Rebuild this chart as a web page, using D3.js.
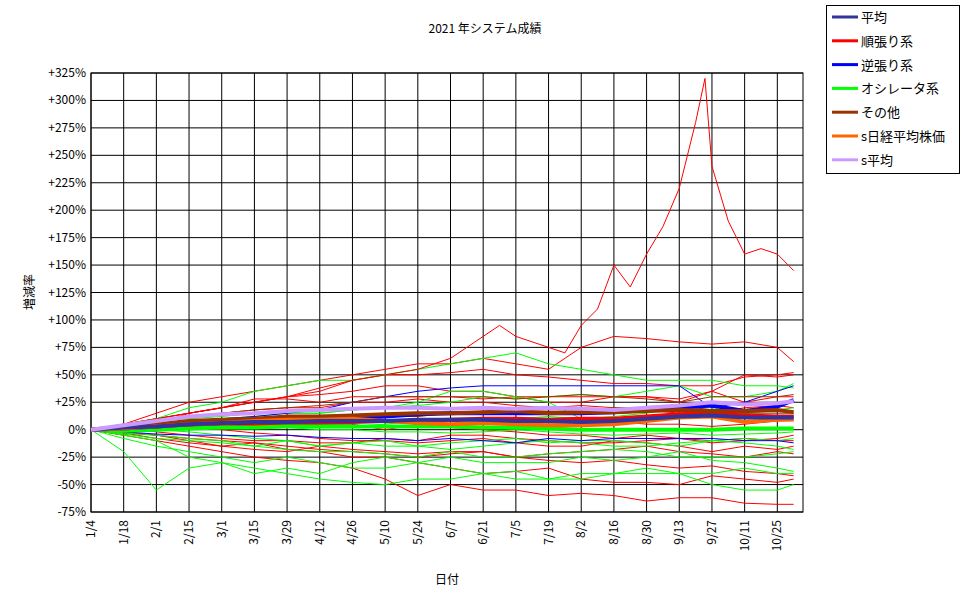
<!DOCTYPE html>
<html><head><meta charset="utf-8">
<script src="https://cdn.jsdelivr.net/npm/d3@7"></script>
<style>body{margin:0;background:#fff}text{font-family:"Noto Sans CJK JP",sans-serif}</style>
</head><body><svg id="c" width="970" height="604"></svg>
<script>
const dates=["1/4","1/18","2/1","2/15","3/1","3/15","3/29","4/12","4/26","5/10","5/24","6/7","6/21","7/5","7/19","8/2","8/16","8/30","9/13","9/27","10/11","10/25","11/1"];
const tickLabels=["1/4","1/18","2/1","2/15","3/1","3/15","3/29","4/12","4/26","5/10","5/24","6/7","6/21","7/5","7/19","8/2","8/16","8/30","9/13","9/27","10/11","10/25"];
const yTicks=[-75,-50,-25,0,25,50,75,100,125,150,175,200,225,250,275,300,325];
const spikeDates=["1/4","1/18","2/1","2/15","3/1","3/15","3/29","4/12","4/26","5/10","5/24","6/7","6/21","6/28","7/5","7/19","7/26","8/2","8/9","8/16","8/23","8/30","9/6","9/13","9/20","9/24","9/27","10/4","10/11","10/18","10/25","11/1"];
const spikeValues=[0,5,10,15,20,25,30,38,45,50,55,65,85,95,85,75,70,95,110,150,130,160,185,220,280,320,240,190,160,165,160,145];
const redThin=[
[0,5,15,25,30,35,40,45,50,55,60,60,65,60,55,75,85,83,80,78,80,75,62],
[0,5,10,15,20,25,30,35,45,50,50,52,55,50,48,45,42,42,40,40,48,50,52],
[0,-5,5,15,20,25,30,32,35,40,40,35,35,30,30,30,30,30,25,35,50,48,50],
[0,3,8,12,15,18,20,20,25,25,28,25,25,22,20,22,20,18,15,15,20,22,20],
[0,-3,-5,-8,-10,-12,-15,-18,-20,-22,-25,-22,-20,-25,-28,-30,-28,-32,-35,-33,-38,-40,-42],
[0,-5,-10,-15,-20,-25,-28,-30,-35,-45,-60,-50,-55,-55,-60,-58,-60,-65,-62,-62,-67,-68,-68],
[0,-2,-5,-10,-15,-12,-18,-20,-25,-25,-30,-35,-40,-38,-35,-45,-48,-48,-50,-42,-45,-48,-45],
[0,2,5,3,0,-3,-5,-8,-10,-10,-12,-10,-8,-12,-15,-15,-10,-12,-15,-20,-15,-18,-15],
[0,3,6,8,10,10,8,5,5,0,5,2,0,-2,-5,-5,-8,-5,-8,-10,-8,-10,-10],
[0,-3,-8,-12,-15,-18,-20,-15,-18,-20,-22,-20,-20,-25,-22,-20,-18,-15,-20,-22,-25,-20,-22],
[0,4,10,15,20,28,28,25,30,30,30,30,28,30,25,25,30,30,28,35,25,30,30],
[0,-2,0,2,5,3,5,5,8,8,10,8,5,5,5,5,8,5,5,3,5,8,8],
[0,2,-2,-5,-8,-10,-10,-12,-12,-8,-10,-5,-5,-8,-10,-12,-12,-10,-8,-12,-10,-8,-5]];
const greenThin=[
[0,-20,-55,-35,-30,-40,-35,-40,-30,-25,-30,-35,-40,-45,-45,-45,-40,-40,-40,-40,-35,-40,-40],
[0,-5,-10,-25,-30,-35,-40,-45,-48,-50,-45,-45,-40,-38,-45,-40,-40,-35,-40,-50,-55,-55,-50],
[0,5,10,20,25,35,40,45,45,50,55,60,65,70,60,55,50,45,45,45,40,40,38],
[0,3,5,8,10,12,15,15,18,20,25,35,35,30,25,10,12,15,20,20,15,18,20],
[0,-3,-5,-8,-10,-15,-18,-20,-20,-22,-25,-20,-25,-25,-22,-20,-18,-20,-25,-25,-25,-22,-20],
[0,2,4,5,5,3,2,0,0,-2,-2,-3,-2,0,-2,-4,-5,-4,-3,-5,-4,-3,-2],
[0,5,8,10,12,15,15,15,18,20,22,25,30,28,30,32,30,35,40,30,30,35,42],
[0,-4,-8,-10,-12,-15,-10,-15,-12,-10,-15,-12,-10,-8,-12,-10,-10,-12,-15,-10,-8,-10,-8],
[0,-8,-15,-20,-25,-30,-25,-30,-35,-35,-30,-25,-30,-30,-30,-25,-28,-25,-20,-28,-30,-35,-38],
[0,3,5,5,8,8,5,5,3,5,8,10,8,10,12,10,10,8,10,12,15,10,12],
[0,2,0,-2,-5,-8,-10,-15,-12,-15,-15,-18,-15,-12,-10,-12,-15,-15,-12,-10,-12,-15,-18]];
const blueThin=[
[0,3,5,8,10,12,15,18,25,30,35,38,40,40,40,40,40,40,40,20,25,35,40],
[0,-2,-4,-5,-5,-6,-5,-7,-8,-8,-10,-8,-10,-12,-8,-10,-8,-8,-8,-8,-10,-10,-12]];
const brownThin=[
[0,5,8,12,15,18,20,22,25,30,30,30,30,28,30,32,30,28,25,30,30,30,32],
[0,3,5,5,7,8,8,8,10,12,12,15,15,18,18,18,20,20,22,18,15,15,15]];
const series=[
{name:"順張り系",color:"#ff0000",v:[0,1,2,3,4,5,6,6,7,8,8,9,10,10,9,10,10,12,14,15,13,12,12]},
{name:"オシレータ系",color:"#00ff00",v:[0,-1,0,1,2,2,3,3,3,3,3,3,2,2,1,0,0,0,0,0,1,1,1]},
{name:"逆張り系",color:"#0000ff",v:[0,1,3,5,6,7,8,9,10,12,14,15,15,15,15,15,16,18,20,22,17,21,27]},
{name:"その他",color:"#993300",v:[0,3,5,8,9,10,12,12,13,14,15,15,16,17,15,16,16,17,18,17,17,18,16]},
{name:"s日経平均株価",color:"#ff6600",v:[0,1,3,5,6,8,9,9,10,8,6,5,6,5,4,4,5,8,11,12,7,9,10]},
{name:"平均",color:"#333399",v:[0,2,3,5,6,7,7,8,8,8,9,9,9,8,8,7,8,10,12,13,11,11,11]},
{name:"s平均",color:"#cc99ff",v:[0,4,8,12,14,15,17,18,19,20,20,19,20,19,20,19,18,20,22,25,23,24,26]}];
const legendOrder=["平均","順張り系","逆張り系","オシレータ系","その他","s日経平均株価","s平均"];

const svg=d3.select("#c");
const P=d=>d3.timeParse("%Y/%m/%d")("2021/"+d);
const x=d3.scaleTime().domain([P("1/4"),P("11/5")]).range([91,803]);
const y=d3.scaleLinear().domain([-75,325]).range([512,73]);
const g=svg.append("g");
g.selectAll(".h").data(yTicks).join("line").attr("x1",91).attr("x2",803).attr("y1",d=>y(d)).attr("y2",d=>y(d)).attr("stroke","#000");
g.selectAll(".v").data(tickLabels).join("line").attr("x1",d=>x(P(d))).attr("x2",d=>x(P(d))).attr("y1",73).attr("y2",512).attr("stroke","#000");
g.append("rect").attr("x",91).attr("y",73).attr("width",712).attr("height",439).attr("fill","none").attr("stroke","#000");
const line=d3.line().x(d=>x(P(d[0]))).y(d=>y(d[1]));
const pts=v=>v.map((val,i)=>[dates[i],val]);
const draw=(v,c,w)=>g.append("path").attr("d",line(pts(v))).attr("fill","none").attr("stroke",c).attr("stroke-width",w);
redThin.forEach(v=>draw(v,"#ff0000",1));
greenThin.forEach(v=>draw(v,"#00ff00",1));
blueThin.forEach(v=>draw(v,"#0000ff",1));
brownThin.forEach(v=>draw(v,"#993300",1));
g.append("path").attr("d",line(spikeValues.map((v,i)=>[spikeDates[i],v]))).attr("fill","none").attr("stroke","#ff0000");
series.forEach(s=>draw(s.v,s.color,4));
// axes text
yTicks.forEach(t=>svg.append("text").attr("x",86).attr("y",y(t)+4).attr("text-anchor","end").attr("font-size",12).text((t>0?"+":"")+t+"%"));
tickLabels.forEach(t=>svg.append("text").attr("transform",`translate(${x(P(t))+4},520) rotate(-90)`).attr("text-anchor","end").attr("font-size",12).text(t));
svg.append("text").attr("x",485).attr("y",33).attr("text-anchor","middle").attr("font-size",12).text("2021 年システム成績");
svg.append("text").attr("x",447).attr("y",584).attr("text-anchor","middle").attr("font-size",12).text("日付");
svg.append("text").attr("transform","translate(34,292) rotate(-90)").attr("text-anchor","middle").attr("font-size",12).text("増減率");
svg.append("rect").attr("x",826.5).attr("y",5.5).attr("width",133).attr("height",168).attr("fill","#fff").attr("stroke","#000");
legendOrder.forEach((n,i)=>{const s=series.find(d=>d.name==n);const yy=17+i*23.8;
svg.append("line").attr("x1",832).attr("x2",858).attr("y1",yy).attr("y2",yy).attr("stroke",s.color).attr("stroke-width",3);
svg.append("text").attr("x",861).attr("y",yy+5).attr("font-size",13).text(n);});
</script></body></html>
